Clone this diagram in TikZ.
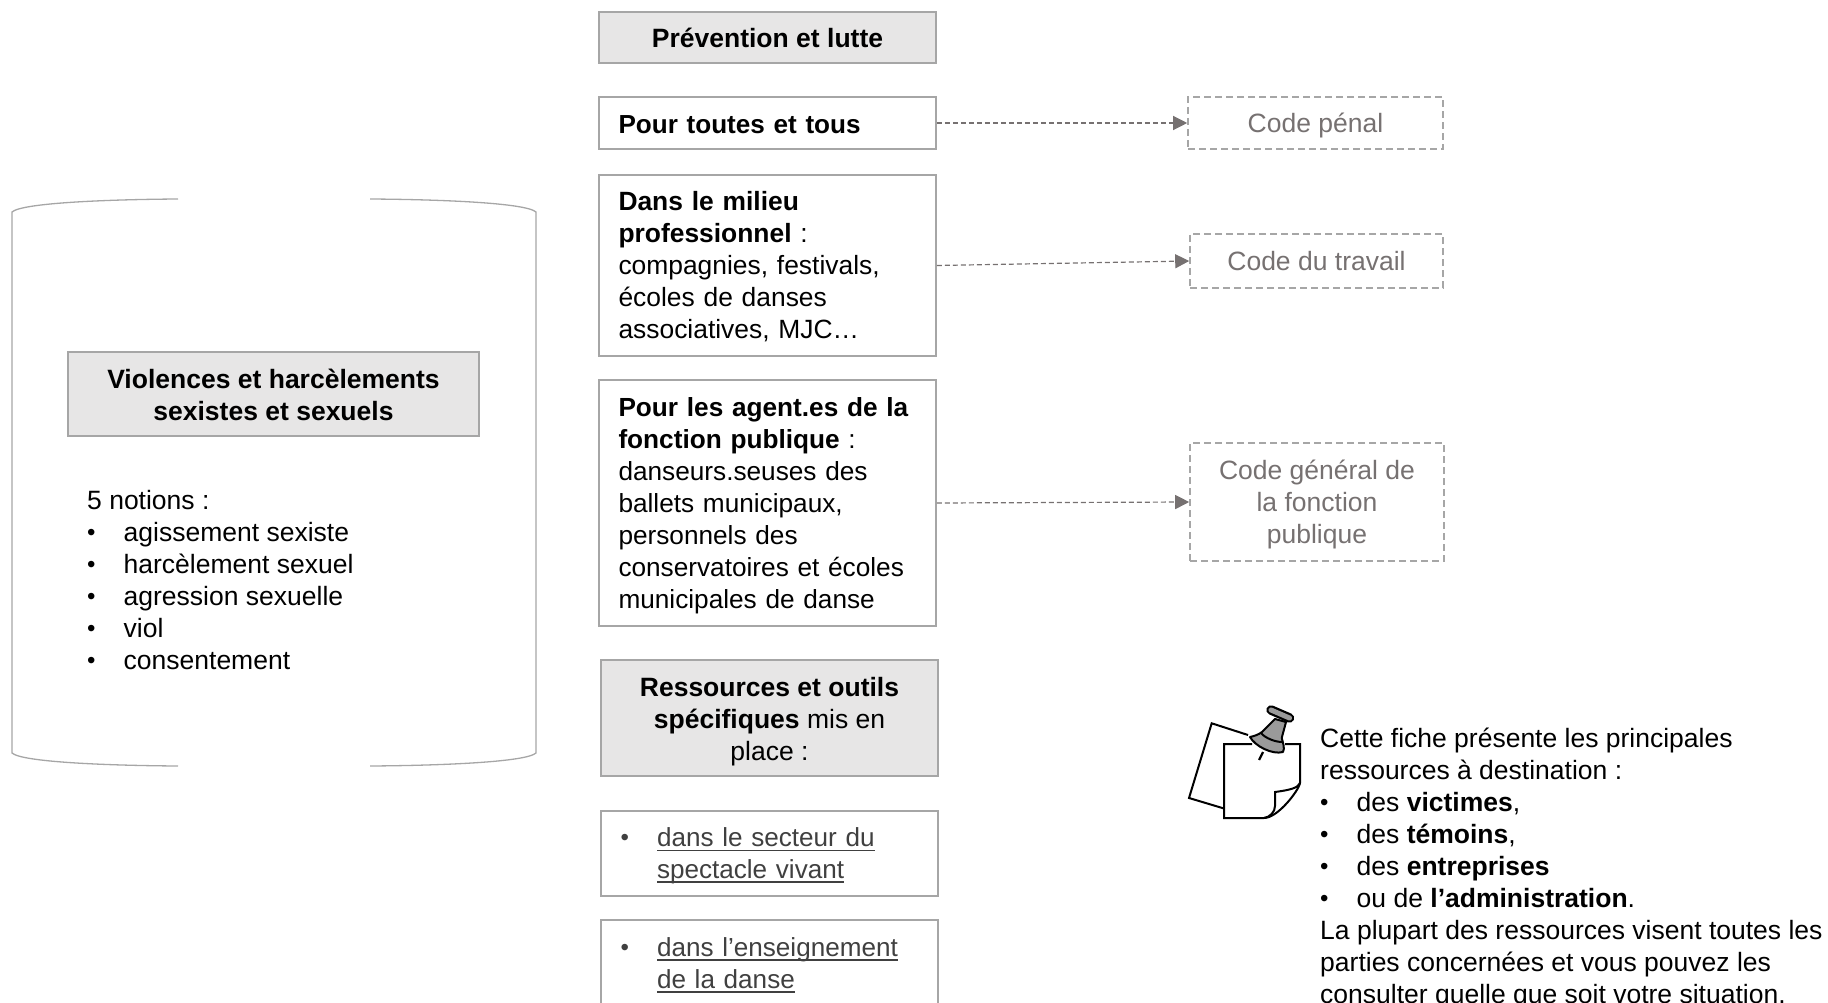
\documentclass[tikz,border=0pt]{standalone}
\usepackage{fontspec}
\setmainfont{Liberation Sans}
\usetikzlibrary{arrows.meta}
\definecolor{boxline}{HTML}{A6A6A6}
\definecolor{boxfill}{HTML}{E7E6E6}
\definecolor{codegrey}{HTML}{767171}
\definecolor{linktext}{HTML}{404040}
\definecolor{pingrey}{HTML}{9A9A9A}
\newcommand\ulx[1]{\setbox0=\hbox{#1}\rlap{\rule[-4.5pt]{\wd0}{1.8pt}}\box0}
\newcommand\bul{\makebox[36.5pt][l]{\raisebox{1pt}{\fontsize{24}{32}\selectfont •}}}
\newcommand\tp[1]{\rule{0pt}{#1pt}}
\tikzset{
  basetext/.style={font=\fontsize{26.5}{32}\selectfont, inner sep=0pt},
  whitebox/.style={basetext, font=\fontsize{26.1}{32}\selectfont, draw=boxline, line width=1.6pt, fill=white, align=left},
  greybox/.style={basetext, draw=boxline, line width=1.6pt, fill=boxfill, align=center},
  codebox/.style={basetext, draw=boxline, line width=1.6pt, dash pattern=on 7pt off 4pt, text=codegrey, align=center},
  dasharrow/.style={draw=codegrey, line width=1.2pt, dash pattern=on 5pt off 3pt, -{Triangle[length=14pt,width=14pt]}},
  outline/.style={draw=boxline, line width=1.3pt},
  notestroke/.style={draw=black, line width=2pt, line join=miter},
  pinstroke/.style={draw=black, line width=2pt, line join=round}
}
\begin{document}
\begin{tikzpicture}[x=1pt,y=-1pt]
\useasboundingbox (0,0) rectangle (1828,1003);
% left bracket shape
\draw[outline] (178,199) .. controls (105,199.5) and (22,203) .. (12,212) -- (12,753) .. controls (22,762) and (105,765.5) .. (178,766);
\draw[outline] (370,199) .. controls (443,199.5) and (526,203) .. (536,212) -- (536,753) .. controls (526,762) and (443,765.5) .. (370,766);
\node[greybox, minimum width=411pt, minimum height=84pt] (title) at (273.5,394) {\tp{21}\textbf{Violences et harcèlements}\\\textbf{sexistes et sexuels}};
\node[basetext, align=left, anchor=west] (notions) at (87,580) {5 notions :\\\bul agissement sexiste\\\bul harcèlement sexuel\\\bul agression sexuelle\\\bul viol\\\bul consentement};
% centre column
\node[greybox, minimum width=337pt, minimum height=51pt] (prev) at (767.5,37.5) {\textbf{Prévention et lutte}};
\node[whitebox, minimum width=337pt, minimum height=52pt, text width=298pt] (tous) at (767.5,123) {\tp{21.5}\textbf{Pour toutes et tous}};
\node[whitebox, font=\fontsize{26.4}{32}\selectfont, minimum width=337pt, minimum height=181pt, text width=298pt] (milieu) at (767.5,265.5) {\tp{21.5}\textbf{Dans le milieu}\\\textbf{professionnel} :\\compagnies, festivals,\\écoles de danses\\associatives, MJC…};
\node[whitebox, font=\fontsize{26.2}{32}\selectfont, minimum width=337pt, minimum height=246pt, text width=298pt] (agents) at (767.5,503) {\tp{25}\textbf{Pour les agent.es de la}\\\textbf{fonction publique} :\\danseurs.seuses des\\ballets municipaux,\\personnels des\\conservatoires et écoles\\municipales de danse};
\node[greybox, minimum width=337pt, minimum height=116pt] (res) at (769.5,718) {\tp{26}\textbf{Ressources et outils}\\\textbf{spécifiques} mis en\\place :};
\node[whitebox, minimum width=337pt, minimum height=85pt, text width=298pt, text=linktext] (spect) at (769.5,853.5) {\tp{24}\bul\ulx{dans le secteur du}\\\hspace*{36.5pt}\ulx{spectacle vivant}};
\node[whitebox, minimum width=337pt, minimum height=85pt, text width=298pt, text=linktext] (ens) at (769.5,962.5) {\tp{24}\bul\ulx{dans l’enseignement}\\\hspace*{36.5pt}\ulx{de la danse}};
% right column
\node[codebox, minimum width=255pt, minimum height=52pt] (penal) at (1315.5,123) {\tp{25.5}Code pénal};
\node[codebox, minimum width=253pt, minimum height=54pt] (travail) at (1316.5,261) {Code du travail};
\node[codebox, minimum width=254pt, minimum height=118pt] (fonction) at (1317,502) {\tp{24}Code général de\\la fonction\\publique};
\draw[dasharrow] (tous.east) -- (penal.west);
\draw[dasharrow] (milieu.east) -- (travail.west);
\draw[dasharrow] (agents.east) -- (fonction.west);
% note text
\node[basetext, align=left, anchor=west] (fiche) at (1320,868) {Cette fiche présente les principales\\ressources à destination :\\\bul des \textbf{victimes},\\\bul des \textbf{témoins},\\\bul des \textbf{entreprises}\\\bul ou de \textbf{l’administration}.\\La plupart des ressources visent toutes les\\parties concernées et vous pouvez les\\consulter quelle que soit votre situation.};
% pin icon
\draw[notestroke] (1248,735) -- (1211.7,723.3) -- (1189,798) -- (1224,808.5);
\draw[notestroke] (1285,744) -- (1300,744) -- (1300,783) .. controls (1299,790) and (1278,818) .. (1264,818) -- (1224,818) -- (1224,744) -- (1252,744);
\draw[notestroke] (1300,783) .. controls (1298,788) and (1290,790) .. (1275,792) -- (1275,806) .. controls (1275,812) and (1270,817) .. (1264,818);
\draw[line width=2.2pt] (1263,752) -- (1259,760);
\filldraw[pinstroke, fill=pingrey] (1275,719) -- (1262,732) .. controls (1258,735) and (1254,736) .. (1250,737) .. controls (1255,746) and (1272,755) .. (1283,752) .. controls (1285,748) and (1283,743) .. (1281.7,738) -- (1286,722) -- cycle;
\draw[pinstroke] (1261,733) .. controls (1265,738) and (1275,742) .. (1282,742);
\draw[black, line width=9.5pt, line cap=round] (1271,710) -- (1289.5,718);
\draw[pingrey, line width=5pt, line cap=round] (1271,710) -- (1289.5,718);
\end{tikzpicture}
\end{document}
